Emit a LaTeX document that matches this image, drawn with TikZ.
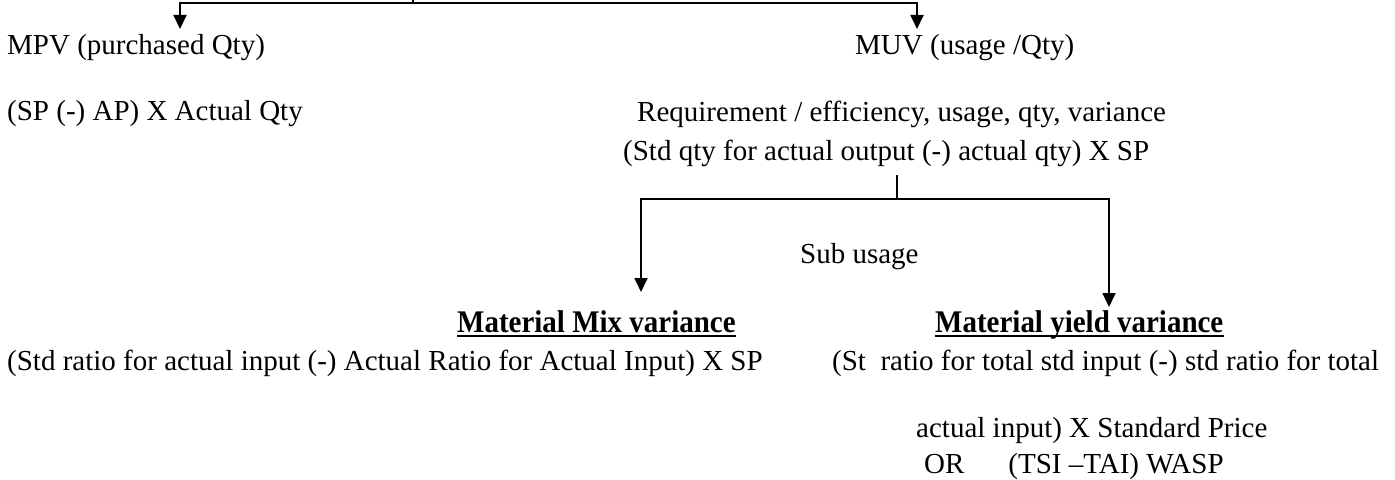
\documentclass[tikz,border=0pt]{standalone}
\usepackage{fontspec}
\setmainfont{Liberation Serif}
% headings: bold face, slightly narrowed
\newfontfamily\headfont[FakeStretch=0.92]{Liberation Serif}
\usetikzlibrary{arrows.meta,calc}

\tikzset{
  txt/.style={anchor=base west, inner sep=0pt, font=\fontsize{29bp}{34bp}\selectfont},
  head/.style={anchor=base west, inner sep=0pt, font=\headfont\bfseries\fontsize{31.5bp}{36bp}\selectfont},
  wire/.style={line width=1.8bp},
  arr/.style={wire, -{Triangle[width=13bp,length=14bp]}},
  uline/.style={line width=2.6bp}
}

\begin{document}
\begin{tikzpicture}[x=1bp,y=-1bp]
\useasboundingbox (0,0) rectangle (1395,480);

% first split: price and usage variances
\coordinate (root) at (413,-10);
\coordinate (j1) at (413,3);
\coordinate (mpvtip) at (180,29);
\coordinate (muvtip) at (917,29);
\draw[wire] (root) -- (j1);
\draw[arr] (j1) -| (mpvtip);
\draw[arr] (j1) -| (muvtip);

\node[txt] (mpv) at (7,55) {MPV (purchased Qty)};
\node[txt] (muv) at (855,55) {MUV (usage /Qty)};
\node[txt] (mpvf) at (7,121) {(SP (-) AP) X Actual Qty};
\node[txt] (req) at (637,122) {Requirement / efficiency, usage, qty, variance};
\node[txt] (muvf) at (623,161) {(Std qty for actual output (-) actual qty) X SP};

% second split: mix and yield
\coordinate (stem) at (897,175);
\coordinate (j2) at (897,199);
\coordinate (mixtip) at (641,292);
\coordinate (yieldtip) at (1109,307);
\draw[wire] (stem) -- (j2);
\draw[arr] (j2) -| (mixtip);
\draw[arr] (j2) -| (yieldtip);

\node[txt] (sub) at (800,264) {Sub usage};

\node[head] (mix) at (457,332) {Material Mix variance};
\node[head] (yield) at (935,332) {Material yield variance};
\draw[uline] ($(mix.base west)+(0,4)$) -- ($(mix.base east)+(0,4)$);
\draw[uline] ($(yield.base west)+(0,4)$) -- ($(yield.base east)+(0,4)$);

\node[txt] (mixf) at (7,370) {(Std ratio for actual input (-) Actual Ratio for Actual Input) X SP};
\node[txt] (yieldf) at (832,370) {(St\ \ ratio for total std input (-) std ratio for total};
\node[txt] (yieldf2) at (916,437) {actual input) X Standard Price};
\node[txt] (yieldf3) at (924,473) {OR\hspace{44bp}(TSI –TAI) WASP};
\end{tikzpicture}
\end{document}
